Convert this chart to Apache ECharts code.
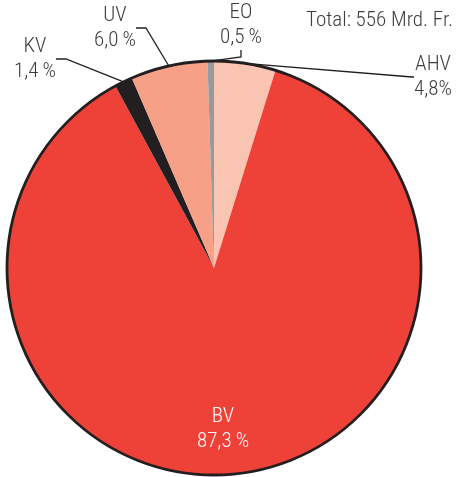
<!DOCTYPE html>
<html>
<head>
<meta charset="utf-8">
<script src="https://cdn.jsdelivr.net/npm/echarts@6/dist/echarts.min.js"></script>
<style>
  html, body { margin: 0; padding: 0; background: #fff; }
  #main { width: 466px; height: 477px; }
</style>
</head>
<body>
<div id="main"></div>
<script>
// Anteile nach Zweig (in %), im Uhrzeigersinn ab 12 Uhr
const categories = ['AHV', 'BV', 'KV', 'UV', 'EO'];
const shares = [4.8, 87.3, 1.4, 6.0, 0.5];
const colors = ['#f9c4b1', '#ee4137', '#231f20', '#f5a087', '#98999d'];
const totalText = 'Total: 556 Mrd. Fr.';

const font = '"Liberation Sans Narrow", "Roboto Condensed", "Roboto", sans-serif';
const textColor = '#3c3c3c';

// Lage der Beschriftungen (Mitte des Textblocks)
const labelPos = {
  AHV: { x: 433, y: 77, length2: 2 },
  BV: { x: 223, y: 429 },
  KV: { x: 35, y: 59, length2: 10 },
  UV: { x: 115, y: 28, length2: 10 },
  EO: { x: 241, y: 25, length2: 7 }
};

const chart = echarts.init(document.getElementById('main'), null, { renderer: 'canvas' });

function fmt(v, name) {
  let s = v.toFixed(1).replace('.', ',');
  return name === 'AHV' ? s + '%' : s + '\u2009%';
}

const pieData = categories.map(function (name, i) {
  const item = {
    name: name,
    value: shares[i],
    itemStyle: { color: colors[i] }
  };
  if (name === 'BV') {
    item.label = { color: '#fff' };
    item.labelLine = { show: false };
  } else {
    item.labelLine = { length: 10, length2: labelPos[name].length2 };
  }
  return item;
});

const option = {
  animation: false,
  title: {
    text: totalText,
    right: 8,
    top: 5,
    textStyle: { fontFamily: font, fontSize: 21, fontWeight: 300, color: textColor }
  },
  series: [
    {
      type: 'pie',
      center: [214, 268],
      radius: 207,
      startAngle: 90,
      clockwise: true,
      avoidLabelOverlap: false,
      itemStyle: { borderWidth: 0 },
      emphasis: { disabled: true },
      label: {
        show: true,
        position: 'outside',
        fontFamily: font,
        fontSize: 21,
        fontWeight: 300,
        lineHeight: 25,
        color: textColor,
        formatter: function (p) { return p.name + '\n' + fmt(p.value, p.name); }
      },
      labelLine: {
        show: true,
        lineStyle: { color: '#231f20', width: 1.3 },
        minTurnAngle: 60
      },
      labelLayout: function (p) {
        const pos = labelPos[categories[p.dataIndex]];
        return { x: pos.x, y: pos.y, align: 'center', verticalAlign: 'middle' };
      },
      data: pieData
    },
    {
      // schwarzer Aussenrand
      type: 'pie',
      center: [214, 268],
      radius: 207,
      silent: true,
      label: { show: false },
      labelLine: { show: false },
      itemStyle: { color: 'rgba(0,0,0,0)', borderColor: '#231f20', borderWidth: 2.8 },
      data: [{ name: 'rand', value: 1 }]
    }
  ]
};

chart.setOption(option);
</script>
</body>
</html>
